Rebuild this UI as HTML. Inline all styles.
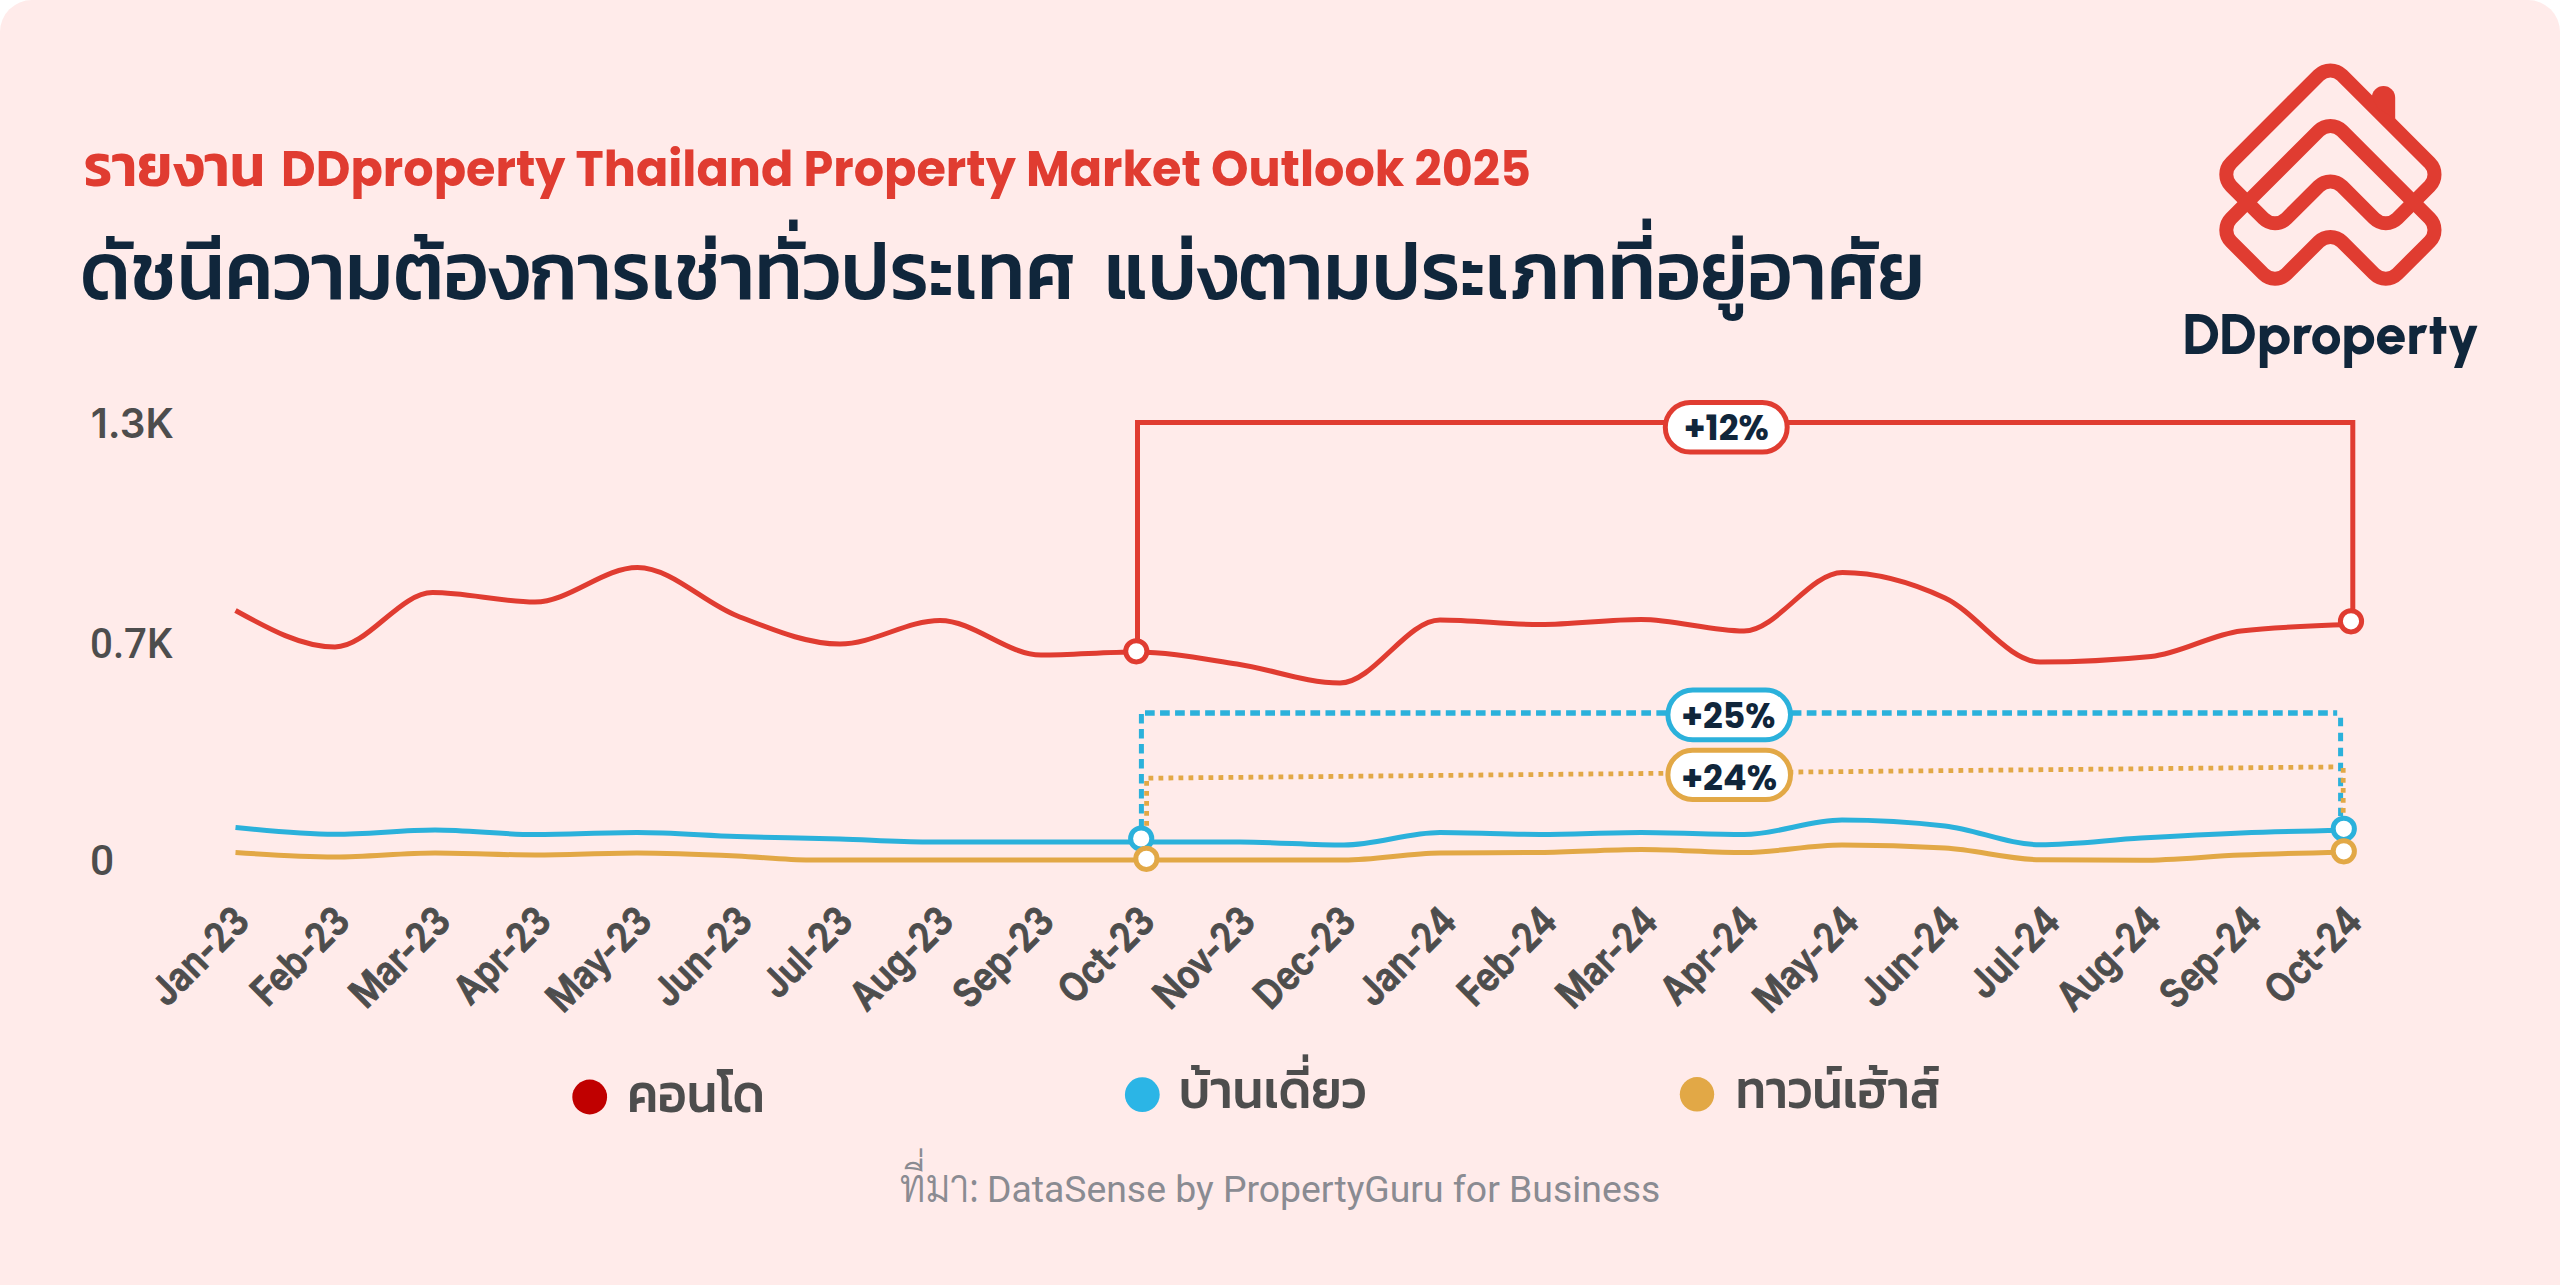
<!DOCTYPE html>
<html lang="th">
<head>
<meta charset="utf-8">
<title>DDproperty Thailand Property Market Outlook 2025</title>
<style>
html,body{margin:0;padding:0;background:#ffffff;}
body{width:2560px;height:1285px;overflow:hidden;}
svg{display:block;position:absolute;left:0;top:0;}
text{white-space:pre;}
.sub{font-family:"Poppins","Kanit","Liberation Sans","Noto Sans Thai","Loma",sans-serif;font-weight:700;}
.subth{font-family:"Kanit","Liberation Sans","Noto Sans Thai","Loma",sans-serif;font-weight:600;}
.head{font-family:"Kanit","Liberation Sans","Noto Sans Thai","Loma",sans-serif;font-weight:500;}
.brand{font-family:"Urbanist","Figtree","Poppins","Liberation Sans",sans-serif;font-weight:800;}
.axis{font-family:"Inter","Liberation Sans",sans-serif;font-weight:600;}
.axis2{font-family:"Roboto","Inter","Liberation Sans",sans-serif;font-weight:510;}
.pct{font-family:"Poppins","Liberation Sans",sans-serif;font-weight:700;}
.leg{font-family:"Kanit","Liberation Sans","Noto Sans Thai","Loma",sans-serif;font-weight:500;}
.src{font-family:"Roboto","Liberation Sans",sans-serif;font-weight:400;}
.srcth{font-family:"Sarabun","Noto Sans Thai Looped","Liberation Sans","Noto Sans Thai","Loma",sans-serif;font-weight:300;}
</style>
</head>
<body>
<svg width="2560" height="1285" viewBox="0 0 2560 1285" role="img" aria-label="ดัชนีความต้องการเช่าทั่วประเทศ แบ่งตามประเภทที่อยู่อาศัย">
<path d="M0 1285V32A32 32 0 0 1 32 0H2528A32 32 0 0 1 2560 32V1285Z" fill="#FFEBEA"/>
<g id="titles">
<text class="subth" x="83.7" y="185.6" font-size="59" fill="#E03C31" textLength="181.4" lengthAdjust="spacingAndGlyphs">รายงาน</text>
<text class="sub" x="281.1" y="185.6" font-size="48.6" fill="#E03C31" textLength="1249.9" lengthAdjust="spacingAndGlyphs">DDproperty Thailand Property Market Outlook 2025</text>
<text class="head" x="80.3" y="298.8" font-size="82" fill="#10263B" textLength="995.4" lengthAdjust="spacingAndGlyphs">ดัชนีความต้องการเช่าทั่วประเทศ</text>
<text class="head" x="1104.1" y="298.8" font-size="82" fill="#10263B" textLength="821.0" lengthAdjust="spacingAndGlyphs">แบ่งตามประเภทที่อยู่อาศัย</text>
</g>
<g id="logo">
<path d="M2318.8 75.2A16.4 16.4 0 0 1 2342.0 75.2L2429.7 162.9A16.4 16.4 0 0 1 2429.7 186.1L2397.4 218.4A16.4 16.4 0 0 1 2374.2 218.4L2342.0 186.2A16.4 16.4 0 0 0 2318.8 186.2L2286.6 218.4A16.4 16.4 0 0 1 2263.4 218.4L2231.1 186.1A16.4 16.4 0 0 1 2231.1 162.9Z" fill="none" stroke="#E03C31" stroke-width="14" stroke-linejoin="round"/>
<path d="M2318.8 130.7A16.4 16.4 0 0 1 2342.0 130.7L2429.7 218.4A16.4 16.4 0 0 1 2429.7 241.6L2397.4 273.9A16.4 16.4 0 0 1 2374.2 273.9L2342.0 241.7A16.4 16.4 0 0 0 2318.8 241.7L2286.6 273.9A16.4 16.4 0 0 1 2263.4 273.9L2231.1 241.6A16.4 16.4 0 0 1 2231.1 218.4Z" fill="none" stroke="#E03C31" stroke-width="14" stroke-linejoin="round"/>
<path d="M2395.2 119V97.8A11.7 11.7 0 0 0 2371.8 97.8L2378 108Z" fill="#E03C31"/>
<text class="brand" x="2182.2" y="354.4" font-size="56" fill="#10263B" textLength="297.6" lengthAdjust="spacingAndGlyphs">DDproperty</text>
</g>
<g id="chart" fill="none" stroke-linecap="butt">
<path d="M1137.5 640V422.4H2352.8V609" stroke="#E03C31" stroke-width="5"/>
<path d="M1141.4 714V826" stroke="#2BB1DB" stroke-width="5" stroke-dasharray="9.6 5.4"/>
<path d="M1145 712.9H2337.2" stroke="#2BB1DB" stroke-width="5.5" stroke-dasharray="9.7 5.34"/>
<path d="M2340.6 717.8V816" stroke="#2BB1DB" stroke-width="5" stroke-dasharray="8.5 6.5"/>
<path d="M1146.6 781V846" stroke="#E2A846" stroke-width="4.8" stroke-dasharray="4.8 5.2"/>
<path d="M1148.5 778.2L2336.8 766.9" stroke="#E2A846" stroke-width="4.8" stroke-dasharray="4.8 5.2"/>
<path d="M2343.2 768V838" stroke="#E2A846" stroke-width="4.8" stroke-dasharray="4.8 5.2"/>
<path d="M235.5 852.5C268.7 854.8 301.8 857.0 335.0 857.0C368.3 857.0 401.7 853.0 435.0 853.0C468.3 853.0 501.7 855.0 535.0 855.0C569.0 855.0 603.0 853.0 637.0 853.0C670.3 853.0 703.7 854.5 737.0 856.0C761.3 857.1 785.7 860.0 810.0 860.0C853.3 860.0 896.7 860.0 940.0 860.0C973.7 860.0 1007.3 860.0 1041.0 860.0C1076.0 860.0 1111.0 860.0 1146.0 860.0C1177.3 860.0 1208.7 860.0 1240.0 860.0C1274.7 860.0 1309.3 860.0 1344.0 860.0C1376.0 860.0 1408.0 853.3 1440.0 853.0C1473.3 852.7 1506.7 852.8 1540.0 852.5C1573.7 852.2 1607.3 849.5 1641.0 849.5C1675.3 849.5 1709.7 852.5 1744.0 852.5C1776.7 852.5 1809.3 845.0 1842.0 845.0C1876.3 845.0 1910.7 846.0 1945.0 848.0C1976.7 849.8 2008.3 859.4 2040.0 859.7C2073.7 860.0 2107.3 860.2 2141.0 860.2C2174.3 860.2 2207.7 856.3 2241.0 855.0C2275.3 853.6 2309.5 852.9 2343.8 852.2" stroke="#E2A846" stroke-width="5"/>
<path d="M235.5 827.5C268.7 830.9 301.8 834.3 335.0 834.3C368.3 834.3 401.7 830.0 435.0 830.0C468.3 830.0 501.7 834.5 535.0 834.5C569.0 834.5 603.0 832.5 637.0 832.5C670.3 832.5 703.7 835.4 737.0 836.5C771.3 837.6 805.7 838.0 840.0 839.0C869.0 839.9 898.0 842.0 927.0 842.0C965.0 842.0 1003.0 842.0 1041.0 842.0C1074.3 842.0 1107.7 842.0 1141.0 842.0C1174.0 842.0 1207.0 842.0 1240.0 842.0C1274.7 842.0 1309.3 845.0 1344.0 845.0C1376.0 845.0 1408.0 832.5 1440.0 832.5C1473.3 832.5 1506.7 834.5 1540.0 834.5C1573.7 834.5 1607.3 832.5 1641.0 832.5C1675.3 832.5 1709.7 834.5 1744.0 834.5C1776.7 834.5 1809.3 820.0 1842.0 820.0C1876.3 820.0 1910.7 822.0 1945.0 826.0C1976.7 829.7 2008.3 844.7 2040.0 844.7C2073.7 844.7 2107.3 840.0 2141.0 838.0C2174.3 836.1 2207.7 834.3 2241.0 833.0C2275.3 831.7 2309.5 830.9 2343.8 830.2" stroke="#2BB1DB" stroke-width="5"/>
<path d="M235.5 610.5C268.7 628.8 301.8 647.0 335.0 647.0C367.5 647.0 400.0 592.5 432.5 592.5C466.7 592.5 500.8 602.0 535.0 602.0C569.2 602.0 603.3 567.5 637.5 567.5C670.8 567.5 704.2 603.3 737.5 616.0C771.7 629.0 805.8 644.0 840.0 644.0C873.3 644.0 906.7 620.5 940.0 620.5C973.7 620.5 1007.3 655.0 1041.0 655.0C1072.8 655.0 1104.5 652.0 1136.3 652.0C1169.9 652.0 1203.4 658.9 1237.0 664.0C1271.3 669.2 1305.7 683.0 1340.0 683.0C1373.3 683.0 1406.7 620.0 1440.0 620.0C1473.3 620.0 1506.7 624.5 1540.0 624.5C1573.7 624.5 1607.3 619.5 1641.0 619.5C1675.3 619.5 1709.7 631.0 1744.0 631.0C1776.8 631.0 1809.7 572.5 1842.5 572.5C1876.7 572.5 1910.8 582.0 1945.0 598.0C1976.7 612.9 2008.3 662.0 2040.0 662.0C2077.0 662.0 2114.0 660.2 2151.0 656.5C2181.0 653.5 2211.0 634.5 2241.0 631.0C2277.7 626.7 2314.3 625.6 2351.0 624.5" stroke="#E03C31" stroke-width="5"/>
<circle cx="1136.3" cy="651.3" r="10.6" fill="#ffffff" stroke="#E03C31" stroke-width="5"/>
<circle cx="2351.0" cy="621.3" r="10.6" fill="#ffffff" stroke="#E03C31" stroke-width="5"/>
<circle cx="1141.2" cy="838.5" r="10.6" fill="#ffffff" stroke="#2BB1DB" stroke-width="5"/>
<circle cx="2343.8" cy="828.8" r="10.6" fill="#ffffff" stroke="#2BB1DB" stroke-width="5"/>
<circle cx="1146.4" cy="858.8" r="10.6" fill="#ffffff" stroke="#E2A846" stroke-width="5"/>
<circle cx="2343.8" cy="851.3" r="10.6" fill="#ffffff" stroke="#E2A846" stroke-width="5"/>
<rect x="1665.3" y="402.4" width="121.9" height="49.7" rx="24.9" fill="#ffffff" stroke="#E03C31" stroke-width="5"/>
<rect x="1667.9" y="689.9" width="122.6" height="49.8" rx="24.9" fill="#ffffff" stroke="#2BB1DB" stroke-width="5"/>
<rect x="1667.9" y="750.3" width="122.6" height="49.2" rx="24.6" fill="#ffffff" stroke="#E2A846" stroke-width="5"/>
</g>
<g id="labels">
<text class="axis" x="90.8" y="438.0" font-size="41" fill="#4D4D4D" textLength="83.0" lengthAdjust="spacingAndGlyphs">1.3K</text>
<text class="axis2" x="90.0" y="658.2" font-size="42" fill="#4D4D4D" textLength="82.5" lengthAdjust="spacingAndGlyphs">0.7K</text>
<text class="axis2" x="89.9" y="875.3" font-size="42" fill="#4D4D4D" textLength="24.2" lengthAdjust="spacingAndGlyphs">0</text>
<text class="pct" x="1683.7" y="439.8" font-size="35.5" fill="#10263B" textLength="85.1" lengthAdjust="spacingAndGlyphs">+12%</text>
<text class="pct" x="1681.2" y="727.5" font-size="35.5" fill="#10263B" textLength="94.3" lengthAdjust="spacingAndGlyphs">+25%</text>
<text class="pct" x="1681.2" y="790.1" font-size="35.5" fill="#10263B" textLength="95.8" lengthAdjust="spacingAndGlyphs">+24%</text>
<text class="axis" transform="translate(251.5 923.5) rotate(-45)" text-anchor="end" font-size="39.5" fill="#4D4D4D" stroke="#4D4D4D" stroke-width="1" textLength="119.4" lengthAdjust="spacingAndGlyphs">Jan-23</text>
<text class="axis" transform="translate(352.1 923.5) rotate(-45)" text-anchor="end" font-size="39.5" fill="#4D4D4D" stroke="#4D4D4D" stroke-width="1" textLength="119.5" lengthAdjust="spacingAndGlyphs">Feb-23</text>
<text class="axis" transform="translate(452.7 923.5) rotate(-45)" text-anchor="end" font-size="39.5" fill="#4D4D4D" stroke="#4D4D4D" stroke-width="1" textLength="122.5" lengthAdjust="spacingAndGlyphs">Mar-23</text>
<text class="axis" transform="translate(553.3 923.5) rotate(-45)" text-anchor="end" font-size="39.5" fill="#4D4D4D" stroke="#4D4D4D" stroke-width="1" textLength="117.5" lengthAdjust="spacingAndGlyphs">Apr-23</text>
<text class="axis" transform="translate(653.9 923.5) rotate(-45)" text-anchor="end" font-size="39.5" fill="#4D4D4D" stroke="#4D4D4D" stroke-width="1" textLength="128.4" lengthAdjust="spacingAndGlyphs">May-23</text>
<text class="axis" transform="translate(754.5 923.5) rotate(-45)" text-anchor="end" font-size="39.5" fill="#4D4D4D" stroke="#4D4D4D" stroke-width="1" textLength="120.7" lengthAdjust="spacingAndGlyphs">Jun-23</text>
<text class="axis" transform="translate(855.1 923.5) rotate(-45)" text-anchor="end" font-size="39.5" fill="#4D4D4D" stroke="#4D4D4D" stroke-width="1" textLength="108.6" lengthAdjust="spacingAndGlyphs">Jul-23</text>
<text class="axis" transform="translate(955.7 923.5) rotate(-45)" text-anchor="end" font-size="39.5" fill="#4D4D4D" stroke="#4D4D4D" stroke-width="1" textLength="126.2" lengthAdjust="spacingAndGlyphs">Aug-23</text>
<text class="axis" transform="translate(1056.3 923.5) rotate(-45)" text-anchor="end" font-size="39.5" fill="#4D4D4D" stroke="#4D4D4D" stroke-width="1" textLength="122.8" lengthAdjust="spacingAndGlyphs">Sep-23</text>
<text class="axis" transform="translate(1156.9 923.5) rotate(-45)" text-anchor="end" font-size="39.5" fill="#4D4D4D" stroke="#4D4D4D" stroke-width="1" textLength="116.6" lengthAdjust="spacingAndGlyphs">Oct-23</text>
<text class="axis" transform="translate(1257.5 923.5) rotate(-45)" text-anchor="end" font-size="39.5" fill="#4D4D4D" stroke="#4D4D4D" stroke-width="1" textLength="123.9" lengthAdjust="spacingAndGlyphs">Nov-23</text>
<text class="axis" transform="translate(1358.1 923.5) rotate(-45)" text-anchor="end" font-size="39.5" fill="#4D4D4D" stroke="#4D4D4D" stroke-width="1" textLength="123.8" lengthAdjust="spacingAndGlyphs">Dec-23</text>
<text class="axis" transform="translate(1458.7 923.5) rotate(-45)" text-anchor="end" font-size="39.5" fill="#4D4D4D" stroke="#4D4D4D" stroke-width="1" textLength="119.8" lengthAdjust="spacingAndGlyphs">Jan-24</text>
<text class="axis" transform="translate(1559.3 923.5) rotate(-45)" text-anchor="end" font-size="39.5" fill="#4D4D4D" stroke="#4D4D4D" stroke-width="1" textLength="120.0" lengthAdjust="spacingAndGlyphs">Feb-24</text>
<text class="axis" transform="translate(1659.9 923.5) rotate(-45)" text-anchor="end" font-size="39.5" fill="#4D4D4D" stroke="#4D4D4D" stroke-width="1" textLength="123.0" lengthAdjust="spacingAndGlyphs">Mar-24</text>
<text class="axis" transform="translate(1760.5 923.5) rotate(-45)" text-anchor="end" font-size="39.5" fill="#4D4D4D" stroke="#4D4D4D" stroke-width="1" textLength="118.0" lengthAdjust="spacingAndGlyphs">Apr-24</text>
<text class="axis" transform="translate(1861.1 923.5) rotate(-45)" text-anchor="end" font-size="39.5" fill="#4D4D4D" stroke="#4D4D4D" stroke-width="1" textLength="128.9" lengthAdjust="spacingAndGlyphs">May-24</text>
<text class="axis" transform="translate(1961.7 923.5) rotate(-45)" text-anchor="end" font-size="39.5" fill="#4D4D4D" stroke="#4D4D4D" stroke-width="1" textLength="121.2" lengthAdjust="spacingAndGlyphs">Jun-24</text>
<text class="axis" transform="translate(2062.3 923.5) rotate(-45)" text-anchor="end" font-size="39.5" fill="#4D4D4D" stroke="#4D4D4D" stroke-width="1" textLength="109.1" lengthAdjust="spacingAndGlyphs">Jul-24</text>
<text class="axis" transform="translate(2162.9 923.5) rotate(-45)" text-anchor="end" font-size="39.5" fill="#4D4D4D" stroke="#4D4D4D" stroke-width="1" textLength="126.7" lengthAdjust="spacingAndGlyphs">Aug-24</text>
<text class="axis" transform="translate(2263.5 923.5) rotate(-45)" text-anchor="end" font-size="39.5" fill="#4D4D4D" stroke="#4D4D4D" stroke-width="1" textLength="123.3" lengthAdjust="spacingAndGlyphs">Sep-24</text>
<text class="axis" transform="translate(2364.1 923.5) rotate(-45)" text-anchor="end" font-size="39.5" fill="#4D4D4D" stroke="#4D4D4D" stroke-width="1" textLength="117.1" lengthAdjust="spacingAndGlyphs">Oct-24</text>
</g>
<g id="legend">
<circle cx="589.7" cy="1097" r="17.4" fill="#C00000"/>
<circle cx="1142.3" cy="1094.7" r="17.4" fill="#2BB5E6"/>
<circle cx="1697" cy="1094.3" r="17.2" fill="#E2A846"/>
<text class="leg" x="627.3" y="1112.0" font-size="54" fill="#4D4D4D" textLength="137.6" lengthAdjust="spacingAndGlyphs">คอนโด</text>
<text class="leg" x="1178.8" y="1107.8" font-size="54" fill="#4D4D4D" textLength="187.5" lengthAdjust="spacingAndGlyphs">บ้านเดี่ยว</text>
<text class="leg" x="1735.7" y="1107.7" font-size="54" fill="#4D4D4D" textLength="204.7" lengthAdjust="spacingAndGlyphs">ทาวน์เฮ้าส์</text>
</g>
<g id="source">
<text class="srcth" x="899.7" y="1202.0" font-size="45" fill="#8A8B92" textLength="79.0" lengthAdjust="spacingAndGlyphs">ที่มา:</text>
<text class="src" x="986.9" y="1202.0" font-size="36.6" fill="#8A8B92" textLength="673.4" lengthAdjust="spacingAndGlyphs">DataSense by PropertyGuru for Business</text>
</g>
</svg>
</body>
</html>
